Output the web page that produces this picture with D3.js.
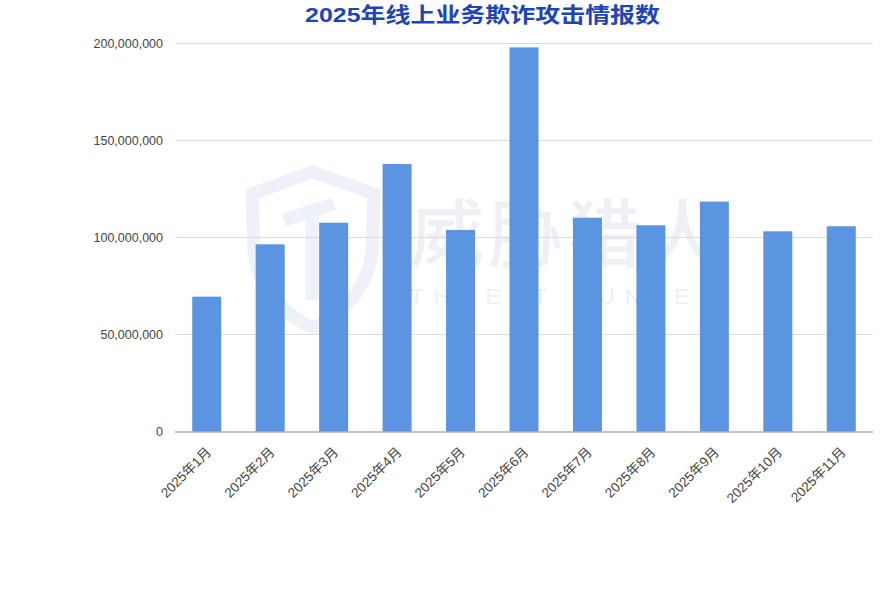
<!DOCTYPE html>
<html><head><meta charset="utf-8">
<script src="https://cdn.jsdelivr.net/npm/d3@7"></script>
<style>body{margin:0;background:#fff;}svg{display:block;}</style>
</head><body>
<svg id="chart" width="895" height="610"></svg>
<script>
const title = "2025年线上业务欺诈攻击情报数";
const categories = ["2025年1月","2025年2月","2025年3月","2025年4月","2025年5月","2025年6月","2025年7月","2025年8月","2025年9月","2025年10月","2025年11月"];
const values = [69500000, 96500000, 107600000, 137900000, 103900000, 198000000, 110200000, 106300000, 118500000, 103200000, 105800000];
const yTicks = [0, 50000000, 100000000, 150000000, 200000000];

(function () {
const svg = d3.select("#chart");
const W = 895, H = 610;
const mLeft = 175, mRight = 873, mTop = 43.5, mBottom = 431.5;

svg.append("rect").attr("width", W).attr("height", H).attr("fill", "#fff");

const x = d3.scaleBand().domain(categories).range([mLeft, mRight]).paddingInner(0.543).paddingOuter(0.2715);
const y = d3.scaleLinear().domain([0, 200000000]).range([mBottom, mTop]);

// watermark
const wm = svg.append("g").attr("pointer-events", "none");
wm.append("path")
  .attr("d", "M313,172 L374,194 L372,252 Q366,302 313,328 Q260,302 254,252 L252,194 Z")
  .attr("fill", "none").attr("stroke", "#eef1f7").attr("stroke-width", 13);
wm.append("path")
  .attr("d", "M284,220 L334,204 M312,212 L312,300")
  .attr("fill", "none").attr("stroke", "#eef1f7").attr("stroke-width", 13);
wm.append("text").attr("x", 410).attr("y", 261)
  .attr("font-family", "Noto Sans CJK SC").attr("font-size", 74).attr("font-weight", 500)
  .attr("textLength", 310).attr("lengthAdjust", "spacing")
  .attr("fill", "#eef0f5").text("威胁猎人");
wm.append("text").attr("x", 410).attr("y", 304)
  .attr("font-family", "Liberation Sans, Arial").attr("font-size", 22)
  .attr("textLength", 305).attr("lengthAdjust", "spacing")
  .attr("fill", "#eef0f5").text("THREAT HUNTER");

// gridlines
svg.append("g").selectAll("line").data(yTicks.filter(d => d > 0)).join("line")
  .attr("x1", mLeft).attr("x2", mRight)
  .attr("y1", d => y(d)).attr("y2", d => y(d))
  .attr("stroke", "#dcdcdc").attr("stroke-width", 1);

// y axis labels
const yAxis = d3.axisLeft(y).tickValues(yTicks).tickSize(0).tickPadding(12)
  .tickFormat(d3.format(","));
const ya = svg.append("g").attr("transform", `translate(${mLeft},0)`).call(yAxis);
ya.select(".domain").remove();
ya.selectAll("text").attr("font-family", "Liberation Sans, Arial, sans-serif")
  .attr("font-size", 12.5).attr("fill", "#444");

// bars
svg.append("g").selectAll("rect").data(values).join("rect")
  .attr("x", (d, i) => x(categories[i]))
  .attr("width", x.bandwidth())
  .attr("y", d => y(d))
  .attr("height", d => y(0) - y(d))
  .attr("fill", "#5b94e1");

// x axis
const xAxis = d3.axisBottom(x).tickSize(0).tickPadding(0);
const xa = svg.append("g").attr("transform", `translate(0,${mBottom})`).call(xAxis);
xa.select(".domain").attr("stroke", "#888").attr("d", `M${mLeft},0.5H${mRight}`);
xa.selectAll("text")
  .attr("font-family", "Liberation Sans, Noto Sans CJK SC, sans-serif")
  .attr("font-size", 13.5).attr("fill", "#444")
  .attr("text-anchor", "end")
  .attr("y", 0)
  .attr("dy", "0.35em")
  .attr("transform", "translate(2,18) rotate(-45)");

// title
svg.append("text").attr("x", 305).attr("y", 22)
  .attr("font-family", "Liberation Sans, Noto Sans CJK SC, sans-serif").attr("font-weight", 700)
  .attr("font-size", 21).attr("textLength", 355).attr("lengthAdjust", "spacingAndGlyphs")
  .attr("fill", "#1f45b5").text(title);
})();
</script>
</body></html>
